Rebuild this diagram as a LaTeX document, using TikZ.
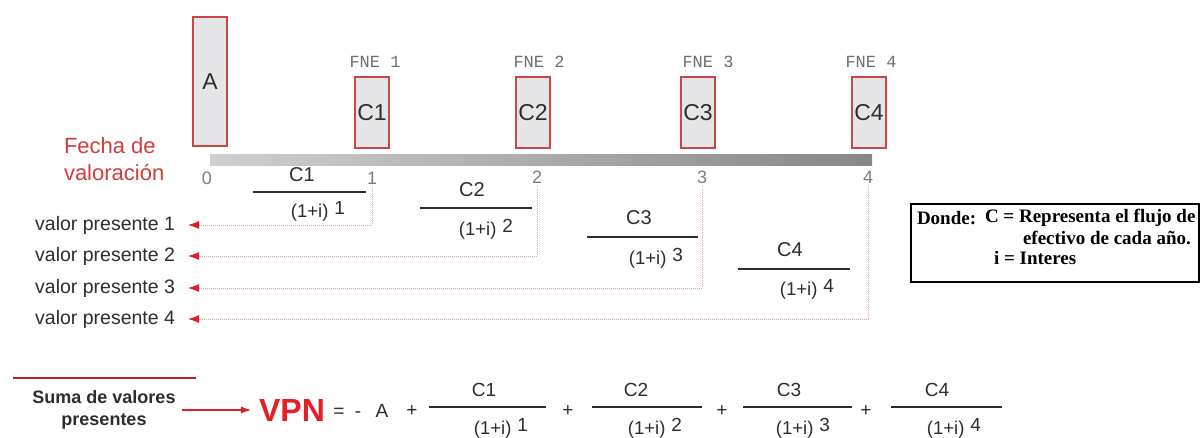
\documentclass[tikz,border=0pt]{standalone}
\usepackage{fontspec}
\setmainfont{Liberation Sans}
\newfontfamily\myserif{Liberation Serif}
\newfontfamily\mymono{Liberation Mono}
\usetikzlibrary{arrows.meta}
\definecolor{boxred}{RGB}{205,70,70}
\definecolor{boxfill}{RGB}{230,230,232}
\definecolor{fnegray}{RGB}{110,110,110}
\definecolor{tickgray}{RGB}{125,125,125}
\definecolor{txt}{RGB}{45,45,45}
\definecolor{fecha}{RGB}{210,60,60}
\definecolor{dotline}{RGB}{225,165,170}
\definecolor{arrred}{RGB}{220,30,40}
\definecolor{vpnred}{RGB}{230,30,40}
\definecolor{sumared}{RGB}{170,40,40}
\definecolor{barl}{RGB}{208,208,208}
\definecolor{barr}{RGB}{135,135,135}
\newcommand\myfs[1]{\fontsize{#1}{#1}\selectfont}
\newcommand\mydenom[1]{{\myfs{18.5}(1+i)}\hspace{6pt}\raisebox{3pt}{\myfs{19}#1}}
\begin{document}
\begin{tikzpicture}[x=1pt,y=-1pt,
  every node/.style={inner sep=0pt, outer sep=0pt, text=txt},
  cbox/.style={draw=boxred, fill=boxfill, line width=1.3pt, minimum width=34pt, minimum height=71pt, font=\myfs{23}},
  fne/.style={text=fnegray, font=\mymono\myfs{17}},
  tick/.style={text=tickgray, font=\myfs{18}},
  vp/.style={font=\myfs{19.5}, anchor=east, outer xsep=13pt},
  conn/.style={draw=dotline, line width=0.9pt, dash pattern=on 1pt off 1pt, arrows={-Latex[length=11pt,width=8pt,color=arrred]}},
  num/.style={font=\myfs{20}},
  bnum/.style={font=\myfs{19}},
  fbar/.style={draw=txt, line width=1.2pt},
  op/.style={font=\myfs{19}, anchor=base},
  dt/.style={font=\myserif\bfseries\myfs{19}, text=black, anchor=west}
]
\useasboundingbox (0,0) rectangle (1201,437);

% top boxes
\node[cbox, minimum height=129pt] (boxA) at (210,81.5) {A};
\node[cbox] (c1) at (372,112.5) {C1};
\node[cbox] (c2) at (533,112.5) {C2};
\node[cbox] (c3) at (698,112.5) {C3};
\node[cbox] (c4) at (869,112.5) {C4};

\node[fne] (f1) at (375,62) {FNE 1};
\node[fne] (f2) at (539,62) {FNE 2};
\node[fne] (f3) at (708,62) {FNE 3};
\node[fne] (f4) at (871,62) {FNE 4};

% timeline
\shade[left color=barl, right color=barr] (210,154) rectangle (872,165);
\node[anchor=west, align=left, text=fecha, font=\myfs{22}] (fecha) at (64,159)
  {Fecha de\\[5pt]valoraci\'on};

\node[tick] (t0) at (207,178) {0};
\node[tick] (t1) at (372,178) {1};
\node[tick] (t2) at (537,177) {2};
\node[tick] (t3) at (702,177) {3};
\node[tick] (t4) at (868,177) {4};

% present value rows
\node[vp] (vp1) at (188,225) {valor presente 1};
\node[vp] (vp2) at (188,256) {valor presente 2};
\node[vp] (vp3) at (188,288) {valor presente 3};
\node[vp] (vp4) at (188,319) {valor presente 4};

\draw[conn] ([yshift=-3pt]t1.south) |- (vp1.east);
\draw[conn] ([yshift=-3pt]t2.south) |- (vp2.east);
\draw[conn] ([yshift=-3pt]t3.south) |- (vp3.east);
\draw[conn] ([yshift=-3pt]t4.south) |- (vp4.east);

% middle fractions
\node[num] (m1n) at (302,175) {C1};
\draw[fbar] (253,192) -- (366,192);
\node[num] (m1d) at (318,211) {\mydenom{1}};
\node[num] (m2n) at (472,190) {C2};
\draw[fbar] (420,208) -- (532,208);
\node[num] (m2d) at (486,229) {\mydenom{2}};
\node[num] (m3n) at (639,218) {C3};
\draw[fbar] (587,237) -- (698,237);
\node[num] (m3d) at (656,258) {\mydenom{3}};
\node[num] (m4n) at (790,250) {C4};
\draw[fbar] (738,269) -- (850,269);
\node[num] (m4d) at (807,289) {\mydenom{4}};

% legend box
\draw[line width=1.2pt] (911,204) rectangle (1199,282);
\node[dt] (dl) at (917,218) {Donde:};
\node[dt] (dc) at (985,218) {C = Representa el flujo de};
\node[dt] (de) at (1023,238) {efectivo de cada a\~no.};
\node[dt] (di) at (994,258) {i = Interes};

% bottom formula
\draw[sumared, line width=1.3pt] (13,378) -- (196,378);
\node[align=center, font=\bfseries\myfs{18}, text=txt] (suma) at (104,410)
  {Suma de valores\\[4pt]presentes};
\node[font=\bfseries\myfs{32}, text=vpnred] (vpn) at (292,410) {VPN};
\draw[arrred, line width=1.1pt, -{Latex[length=10pt,width=7pt]}, shorten >=8pt] ([xshift=6pt]suma.east) -- (vpn.west);
\node[op] (eq) at (339,417) {=};
\node[op] (mi) at (358,417) {-};
\node[op] (a2) at (382,417) {A};
\node[op] (p0) at (412,416) {+};

\node[bnum] (b1n) at (484,390) {C1};
\draw[fbar] (429,407) -- (546,407);
\node[bnum] (b1d) at (501,428) {\mydenom{1}};
\node[op] (p1) at (568,416) {+};
\node[bnum] (b2n) at (636,390) {C2};
\draw[fbar] (592,407) -- (702,407);
\node[bnum] (b2d) at (655,428) {\mydenom{2}};
\node[op] (p2) at (722,416) {+};
\node[bnum] (b3n) at (789,390) {C3};
\draw[fbar] (743,407) -- (852,407);
\node[bnum] (b3d) at (803,428) {\mydenom{3}};
\node[op] (p3) at (866,416) {+};
\node[bnum] (b4n) at (937,390) {C4};
\draw[fbar] (891,407) -- (1002,407);
\node[bnum] (b4d) at (954,428) {\mydenom{4}};
\end{tikzpicture}
\end{document}
